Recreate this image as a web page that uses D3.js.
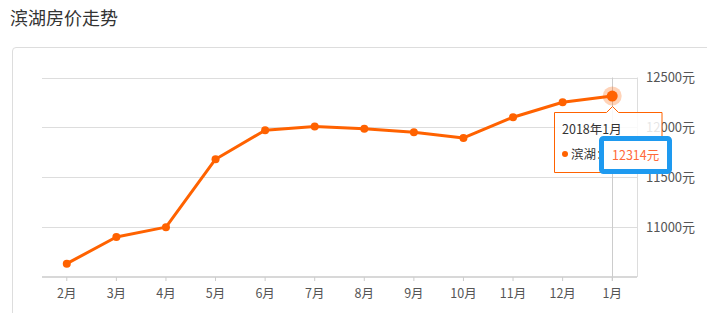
<!DOCTYPE html>
<html><head><meta charset="utf-8">
<script src="https://cdn.jsdelivr.net/npm/d3@7/dist/d3.min.js"></script>
<style>
html,body{margin:0;padding:0;background:#fff;}
svg text{font-family:"Noto Sans CJK SC","Noto Sans",sans-serif;}
</style></head>
<body>
<svg id="c" width="707" height="313"></svg>
<script>
const title = "滨湖房价走势";
const months = ["2月","3月","4月","5月","6月","7月","8月","9月","10月","11月","12月","1月"];
const prices = [10634,10901,11000,11681,11971,12008,11985,11951,11894,12102,12252,12314];
const yTicks = [11000,11500,12000,12500];
const seriesName = "滨湖";
const tipTitle = "2018年1月";
const tipIndex = 11;

const svg = d3.select("#c");
const pL = 42, pR = 637, pT = 77.5, pB = 277;
const x = d3.scaleBand().domain(months).range([pL, pR]);
const y = d3.scaleLinear().domain([10500, 12500]).range([pB, pT]);
const cx = d => x(d) + x.bandwidth()/2;

svg.append("text").attr("x",10).attr("y",25).attr("font-size",18).attr("fill","#333").text(title);

// container frame
svg.append("path").attr("d","M12.5,313 L12.5,51 Q12.5,47.5 16,47.5 L707,47.5")
  .attr("fill","none").attr("stroke","#ddd");

// y axis labels
const yAxis = d3.axisRight(y).tickValues(yTicks).tickSize(0).tickPadding(8)
  .tickFormat(d => d + "元");
const ga = svg.append("g").attr("transform",`translate(${pR},0)`).call(yAxis);
ga.select(".domain").remove();
ga.selectAll("text").attr("font-size",13).attr("fill","#555").attr("x",9).attr("dy","0.32em");
// grid
svg.append("g").selectAll("line").data(yTicks).join("line")
  .attr("x1",pL).attr("x2",pR).attr("y1",d=>Math.round(y(d))+0.5).attr("y2",d=>Math.round(y(d))+0.5)
  .attr("stroke","#ddd");
svg.append("line").attr("x1",pR+0.5).attr("x2",pR+0.5).attr("y1",pT).attr("y2",pB).attr("stroke","#ddd");

// x axis
const xAxis = d3.axisBottom(x).tickSize(4).tickPadding(8);
const gx = svg.append("g").attr("transform",`translate(0,${pB})`).call(xAxis);
gx.select(".domain").attr("stroke","#d8d8d8").attr("stroke-width",2).attr("d",`M${pL},0H${pR}`);
gx.selectAll(".tick line").attr("stroke","#ccc");
gx.selectAll("text").attr("font-size",12.5).attr("fill","#555");

// crosshair
const hx = cx(months[tipIndex]), hy = y(prices[tipIndex]);
svg.append("line").attr("x1",Math.round(hx)+0.5).attr("x2",Math.round(hx)+0.5)
  .attr("y1",pT).attr("y2",pB+4).attr("stroke","#ccc");

// line
const line = d3.line().x((d,i)=>cx(months[i])).y(d=>y(d));
svg.append("path").datum(prices).attr("d",line).attr("fill","none")
  .attr("stroke","#ff6200").attr("stroke-width",3).attr("stroke-linejoin","round");
svg.append("g").selectAll("circle").data(prices).join("circle")
  .attr("cx",(d,i)=>cx(months[i])).attr("cy",d=>y(d)).attr("r",4).attr("fill","#ff6200");
svg.append("circle").attr("cx",hx).attr("cy",hy).attr("r",9.5).attr("fill","#ff6200").attr("opacity",0.28);
svg.append("circle").attr("cx",hx).attr("cy",hy).attr("r",5.5).attr("fill","#ff6200");

// tooltip
const tx0 = 554.5, ty0 = 112.5, tx1 = 662, ty1 = 172.5, ax = Math.round(hx)+0.5;
svg.append("path")
  .attr("d",`M${tx0},${ty0} L${ax-6},${ty0} L${ax},${ty0-6} L${ax+6},${ty0} L${tx1},${ty0} L${tx1},${ty1} L${tx0},${ty1} Z`)
  .attr("fill","#fff").attr("fill-opacity",0.85).attr("stroke","#ff6200").attr("stroke-width",1);
svg.append("text").attr("x",562).attr("y",134).attr("font-size",12.5).attr("fill","#333").text(tipTitle);
svg.append("circle").attr("cx",565).attr("cy",154).attr("r",3).attr("fill","#ff6200");
svg.append("text").attr("x",571).attr("y",158.5).attr("font-size",12.5).attr("fill","#333").text(seriesName + "：");

// blue highlight box
svg.append("rect").attr("x",601.5).attr("y",138.5).attr("width",68).attr("height",33)
  .attr("fill","#fff").attr("stroke","#1e9af0").attr("stroke-width",5).attr("rx",2);
svg.append("text").attr("x",612).attr("y",159.5).attr("font-size",12.5).attr("fill","#ff6a3a")
  .text(prices[tipIndex] + "元");
</script>
</body></html>
